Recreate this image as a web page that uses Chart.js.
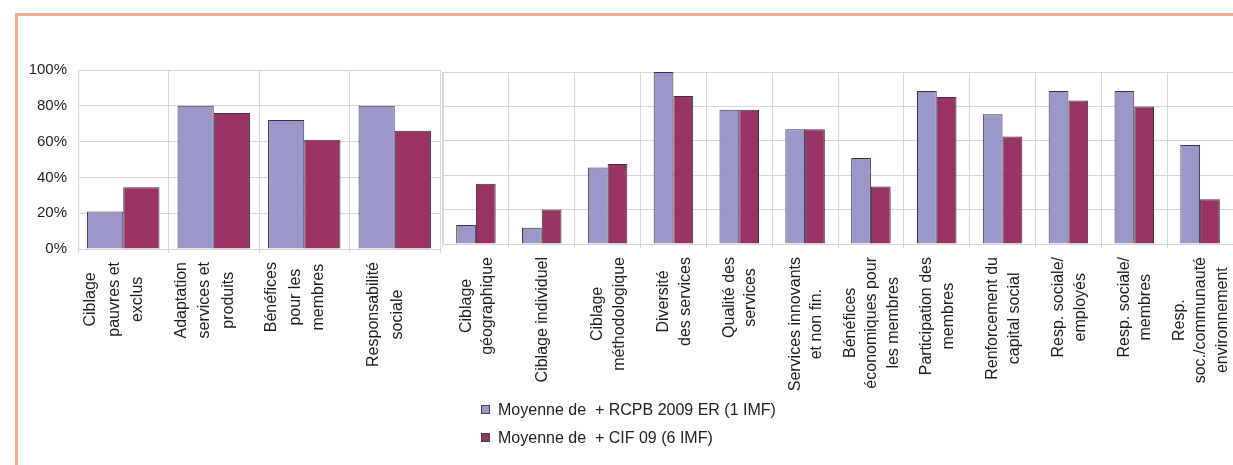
<!DOCTYPE html>
<html>
<head>
<meta charset="utf-8">
<script src="https://cdn.jsdelivr.net/npm/chart.js@4.4.1/dist/chart.umd.min.js"></script>
<style>
  html, body { margin: 0; padding: 0; background: #fff; }
  body { width: 1233px; height: 465px; position: relative; overflow: hidden; font-family: "Liberation Sans", Arial, sans-serif; }
  #cadre { position: absolute; left: 15px; top: 13px; width: 1300px; height: 500px; border-top: 3px solid #f4ab93; border-left: 3px solid #f4ab93; }
  #boiteG { position: absolute; left: 0; top: 0; width: 441px; height: 465px; }
  #boiteD { position: absolute; left: 440px; top: 0; width: 793px; height: 465px; }
  #legende { position: absolute; left: 481px; top: 400px; font-size: 16px; color: #222; }
  .item { height: 28px; line-height: 20px; white-space: pre; }
  .carre { display: inline-block; width: 7px; height: 7px; border: 1px solid #444; margin-right: 8px; vertical-align: 1px; }
</style>
</head>
<body>
<div id="cadre"></div>
<div id="boiteG"><canvas id="graphG"></canvas></div>
<div id="boiteD"><canvas id="graphD"></canvas></div>
<div id="legende"></div>

<script>
// ================= DONNEES =================
const categoriesG = [
  ["Ciblage", "pauvres et", "exclus"],
  ["Adaptation", "services et", "produits"],
  ["Bénéfices", "pour les", "membres"],
  ["Responsabilité", "sociale"]
];
const rcpbG = [21, 80, 72, 80];
const cifG  = [34.5, 76, 61, 66];

const categoriesD = [
  ["Ciblage", "géographique"],
  ["Ciblage individuel"],
  ["Ciblage", "méthodologique"],
  ["Diversité", "des services"],
  ["Qualité des", "services"],
  ["Services innovants", "et non fin."],
  ["Bénéfices", "économiques pour", "les membres"],
  ["Participation des", "membres"],
  ["Renforcement du", "capital social"],
  ["Resp. sociale/", "employés"],
  ["Resp. sociale/", "membres"],
  ["Resp.", "soc./communauté", "environnement"]
];
const rcpbD = [11, 9.5, 44.5, 100, 78, 66.7, 50, 89, 75.5, 89, 89, 57.5];
const cifD  = [35, 20, 46.5, 86, 78, 66.7, 33.5, 85.5, 62.5, 83.5, 80, 26];

const ticksY = [0, 20, 40, 60, 80, 100];
const nomsSeries = ["Moyenne de  + RCPB 2009 ER (1 IMF)", "Moyenne de  + CIF 09 (6 IMF)"];
const couleurs = ["#9a98cb", "#993366"];

const POLICE = '"Liberation Sans", Arial, sans-serif';
const GRILLE = "#d6d6d6";

// ================= PLUGIN ETIQUETTES X =================
// etiquettes verticales, lignes centrees entre elles
const etiquettesX = {
  id: "etiquettesX",
  afterDraw(chart, args, opts) {
    const { ctx, chartArea } = chart;
    const xs = chart.scales.x;
    ctx.save();
    ctx.font = "16px " + POLICE;
    ctx.fillStyle = "#1e1e1e";
    ctx.textAlign = "center";
    ctx.textBaseline = "middle";
    chart.data.labels.forEach((lab, i) => {
      const lignes = Array.isArray(lab) ? lab : [lab];
      const w = Math.max(...lignes.map(l => ctx.measureText(l).width));
      const cx = xs.getPixelForTick(i) + opts.decalage;
      const cy = chartArea.bottom + opts.ecart + w / 2;
      ctx.save();
      ctx.translate(cx, cy);
      ctx.rotate(-Math.PI / 2);
      lignes.forEach((l, k) => {
        ctx.fillText(l, 0, (k - (lignes.length - 1) / 2) * opts.interligne);
      });
      ctx.restore();
    });
    ctx.restore();
  }
};

// ================= CONSTRUCTION =================
function creerGraph(id, labels, serieA, serieB, cfg) {
  const ctx = document.getElementById(id).getContext("2d");
  return new Chart(ctx, {
    type: "bar",
    data: {
      labels,
      datasets: [serieA, serieB].map((d, k) => ({
        label: nomsSeries[k],
        data: d,
        backgroundColor: couleurs[k],
        borderColor: "#3a3040",
        borderWidth: 1,
        borderSkipped: "bottom",
        categoryPercentage: cfg.catPct,
        barPercentage: 1
      }))
    },
    plugins: [etiquettesX],
    options: {
      responsive: true,
      maintainAspectRatio: false,
      animation: false,
      layout: { padding: cfg.padding },
      scales: {
        x: {
          grid: { color: GRILLE, offset: true, tickLength: 4 },
          border: { color: GRILLE },
          ticks: { display: false },
          afterFit: s => { s.height = 0; }
        },
        y: {
          min: 0,
          max: 100,
          afterBuildTicks: s => { s.ticks = ticksY.map(v => ({ value: v })); },
          grid: { color: GRILLE, tickLength: 0 },
          border: { color: GRILLE },
          ticks: {
            display: cfg.ticksY,
            padding: 11,
            color: "#1e1e1e",
            font: { family: POLICE, size: 15 },
            callback: v => v + "%"
          },
          afterFit: s => { s.width = cfg.largeurY; }
        }
      },
      plugins: {
        legend: { display: false },
        tooltip: { enabled: false },
        etiquettesX: { decalage: cfg.decalage, ecart: 13, interligne: cfg.interligne }
      }
    }
  });
}

creerGraph("graphG", categoriesG, rcpbG, cifG, {
  catPct: 0.8,
  padding: { left: 0, right: 1, top: 70, bottom: 216 },
  ticksY: true,
  largeurY: 78,
  decalage: -9,
  interligne: 23.5
});

creerGraph("graphD", categoriesD, rcpbD, cifD, {
  catPct: 0.6,
  padding: { left: 0, right: 0, top: 72, bottom: 221 },
  ticksY: false,
  largeurY: 3,
  decalage: 1,
  interligne: 21.5
});

// ================= LEGENDE =================
document.getElementById("legende").innerHTML = nomsSeries.map((n, k) =>
  `<div class="item"><span class="carre" style="background:${couleurs[k]}"></span>${n}</div>`
).join("");
</script>
</body>
</html>
